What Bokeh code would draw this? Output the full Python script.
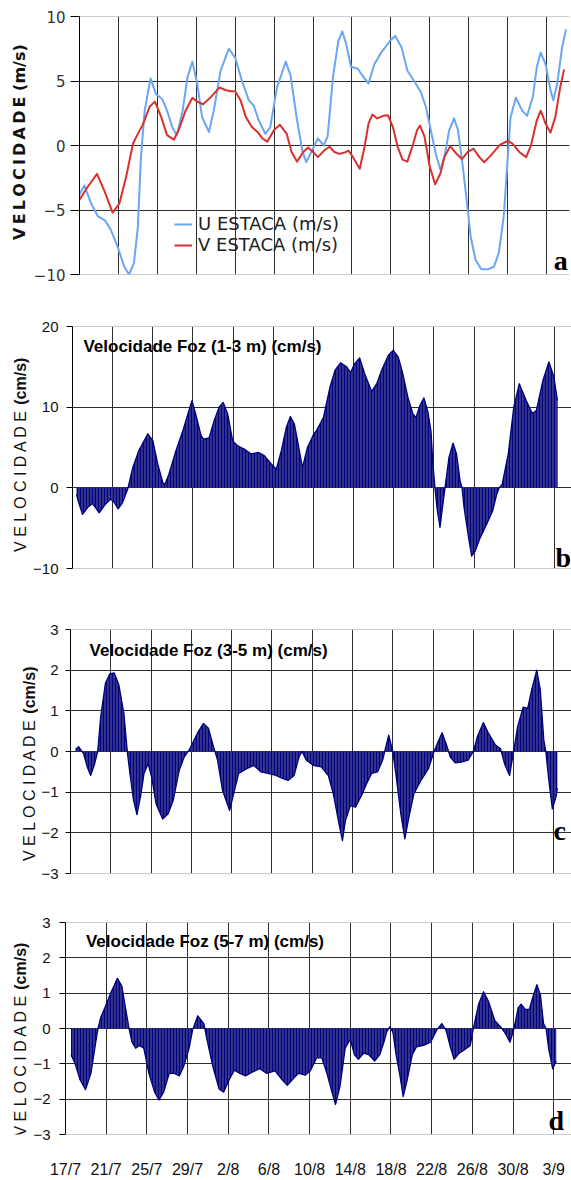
import math
from bokeh.plotting import figure
from bokeh.layouts import column, row
from bokeh.models import Range1d, FixedTicker, Label, Span, Legend, LegendItem
from bokeh.core.properties import value
from bokeh.embed import file_html
from bokeh.resources import INLINE

# ---------------- data ----------------
date_labels = ["17/7", "21/7", "25/7", "29/7", "2/8", "6/8", "10/8", "14/8",
               "18/8", "22/8", "26/8", "30/8", "3/9"]
tick_days = [0, 4, 8, 12, 16, 20, 24, 28, 32, 36, 40, 44, 48]

# panel a  (days since 17/7, m/s)
u_days = [0.0, 0.5, 1.2, 1.9, 2.6, 3.2, 3.9, 4.6, 5.1, 5.6, 6.0, 6.3, 6.7, 7.3, 7.85, 8.5, 9.0, 9.55,
          10.0, 10.6, 11.1, 11.6, 12.1, 12.6, 13.3, 13.8, 14.5, 15.35, 16.0, 16.7, 17.4, 17.9, 18.4,
          19.1, 19.6, 20.3, 21.2, 21.7, 22.35, 22.9, 23.3, 23.9, 24.5, 25.1, 25.5, 26.05, 26.6, 27.0,
          27.4, 27.9, 28.6, 29.1, 29.7, 30.3, 31.0, 31.9, 32.45, 33.1, 33.7, 34.4, 35.1, 35.6, 36.1,
          36.6, 37.1, 37.5, 38.0, 38.5, 38.9, 39.4, 39.9, 40.2, 40.7, 41.3, 41.95, 42.6, 43.1, 43.6,
          44.0, 44.3, 44.85, 45.5, 46.0, 46.6, 47.0, 47.4, 47.9, 48.4, 48.7, 49.1, 49.6, 50.0]
u_vals = [-3.8, -3.1, -4.5, -5.5, -5.8, -6.5, -7.8, -9.4, -10.0, -9.1, -6.3, -1.1, 2.7, 5.2, 4.0, 3.6,
          2.7, 1.4, 0.8, 2.7, 5.3, 6.5, 4.8, 2.2, 1.05, 2.7, 5.8, 7.5, 6.8, 5.0, 3.5, 3.1, 2.0, 0.9,
          1.4, 4.5, 6.5, 5.4, 2.0, -0.4, -1.3, -0.4, 0.55, 0.0, 0.7, 5.3, 8.1, 8.85, 7.9, 6.1, 5.95,
          5.4, 4.8, 6.3, 7.2, 8.1, 8.5, 7.6, 5.8, 5.0, 4.1, 3.0, 1.2, -0.6, -1.9, -0.9, 1.2, 2.1, 1.2,
          -1.65, -5.0, -7.05, -8.85, -9.6, -9.6, -9.4, -8.3, -5.5, -1.1, 2.2, 3.7, 2.7, 2.3, 3.8, 6.1,
          7.2, 6.3, 4.3, 3.5, 4.8, 7.6, 9.0]

v_days = [0.0, 0.85, 1.8, 2.6, 3.4, 4.1, 4.8, 5.5, 6.0, 6.5, 7.2, 7.75, 8.4, 9.0, 9.7, 10.2, 10.9,
          11.6, 12.1, 12.7, 13.5, 14.4, 15.0, 15.5, 16.0, 16.55, 17.1, 17.7, 18.3, 18.8, 19.3, 20.0,
          20.6, 21.3, 21.8, 22.35, 23.0, 23.5, 24.0, 24.5, 25.2, 25.7, 26.2, 26.7, 27.25, 27.65, 28.1,
          28.8, 29.3, 29.7, 30.1, 30.6, 31.2, 31.7, 32.2, 32.7, 33.2, 33.7, 34.3, 34.7, 35.0, 35.45,
          36.0, 36.55, 37.1, 37.5, 38.1, 38.7, 39.3, 39.9, 40.5, 41.1, 41.6, 42.3, 43.2, 44.0, 44.5,
          45.2, 45.9, 46.4, 47.0, 47.4, 47.9, 48.4, 48.9, 49.4, 49.8]
v_vals = [-4.2, -3.2, -2.2, -3.6, -5.2, -4.5, -2.4, 0.15, 0.9, 1.6, 3.0, 3.4, 2.2, 0.8, 0.45, 1.2,
          2.7, 3.7, 3.4, 3.2, 3.75, 4.5, 4.3, 4.2, 4.2, 3.5, 2.2, 1.45, 1.05, 0.55, 0.3, 1.2, 1.6, 0.9,
          -0.5, -1.25, -0.5, -0.15, -0.5, -0.9, -0.35, -0.1, -0.5, -0.65, -0.55, -0.4, -0.9, -1.8,
          -0.1, 1.7, 2.4, 2.1, 2.3, 2.35, 1.45, -0.1, -1.1, -1.25, 0.15, 1.2, 1.55, 0.7, -1.65, -3.0,
          -2.15, -0.9, -0.05, -0.6, -1.05, -0.5, -0.25, -0.9, -1.3, -0.75, 0.05, 0.35, 0.15, -0.5,
          -0.9, 0.0, 1.95, 2.7, 1.7, 1.0, 2.2, 4.5, 5.9]

# panel b  (1-3 m, cm/s)
b_days = [0.4, 0.56, 1.0, 1.5, 2.0, 2.66, 3.3, 3.8, 4.15, 4.55, 5.0, 5.5, 6.0, 6.6, 7.5, 8.0, 8.5,
          9.0, 9.2, 9.6, 10.3, 11.0, 11.5, 11.9, 12.3, 12.8, 13.05, 13.6, 14.1, 14.6, 15.0, 15.45,
          15.95, 16.45, 17.1, 17.8, 18.5, 19.1, 19.8, 20.3, 20.8, 21.3, 21.7, 22.1, 22.6, 22.9, 23.4,
          24.0, 24.3, 25.0, 25.65, 26.15, 26.7, 27.3, 27.7, 28.1, 28.6, 29.1, 29.8, 30.3, 30.8, 31.45,
          31.95, 32.45, 32.9, 33.4, 33.9, 34.2, 34.6, 35.0, 35.4, 35.7, 35.9, 36.1, 36.3, 36.6, 36.85,
          37.1, 37.5, 37.9, 38.25, 38.6, 38.8, 39.0, 39.4, 39.75, 40.1, 40.6, 41.25, 41.85, 42.25,
          42.5, 42.8, 43.4, 43.95, 44.5, 45.2, 45.8, 46.2, 46.85, 47.45, 47.95, 48.3]
b_vals = [-0.8, -1.6, -3.3, -2.45, -1.95, -3.1, -2.0, -1.4, -1.8, -2.6, -1.8, -0.15, 2.5, 4.6, 6.7,
          5.85, 2.9, 0.65, 0.4, 1.7, 4.6, 7.1, 9.2, 10.8, 9.0, 6.5, 6.05, 6.2, 8.3, 10.0, 10.6, 9.2,
          5.85, 5.2, 4.8, 4.2, 4.4, 4.0, 2.95, 2.3, 4.6, 7.5, 8.85, 7.9, 4.6, 2.5, 5.0, 6.6, 7.1, 8.75,
          12.5, 14.6, 15.5, 15.0, 14.3, 15.4, 16.1, 14.15, 11.95, 12.9, 14.6, 16.4, 17.05, 16.2, 14.15,
          11.25, 9.2, 8.7, 10.2, 11.15, 9.4, 7.1, 2.95, 0.0, -2.45, -4.9, -2.45, 0.0, 3.8, 5.55, 4.2,
          0.9, 0.0, -2.45, -5.8, -8.45, -7.85, -6.2, -4.5, -2.85, -0.8, 0.0, 0.45, 4.2, 10.0, 12.9,
          10.8, 9.2, 9.6, 13.3, 15.6, 13.75, 10.8]

# panel c  (3-5 m, cm/s)
c_days = [0.5, 0.8, 1.3, 1.66, 2.0, 2.4, 2.7, 3.0, 3.47, 3.9, 4.34, 4.8, 5.3, 5.64, 5.9, 6.26, 6.6,
          7.0, 7.3, 7.7, 8.06, 8.5, 9.15, 9.7, 10.2, 10.8, 11.3, 11.86, 12.6, 13.2, 13.7, 14.2, 14.6,
          15.1, 15.8, 16.2, 16.7, 17.5, 18.2, 18.9, 19.6, 20.4, 21.1, 21.6, 22.2, 22.7, 23.0, 23.4,
          24.1, 24.9, 25.6, 26.1, 26.6, 27.0, 27.3, 27.8, 28.3, 28.9, 29.4, 29.9, 30.5, 31.0, 31.2,
          31.6, 32.0, 32.3, 32.8, 33.2, 33.6, 34.1, 34.8, 35.55, 36.1, 36.5, 36.9, 37.4, 37.7, 38.2,
          38.8, 39.5, 40.0, 40.4, 41.0, 41.5, 42.2, 42.7, 43.1, 43.6, 44.0, 44.4, 44.95, 45.4, 45.8,
          46.3, 46.65, 47.0, 47.2, 47.5, 47.85, 48.2, 48.35]
c_vals = [0.05, 0.12, -0.05, -0.38, -0.59, -0.3, 0.0, 0.86, 1.68, 1.91, 1.93, 1.64, 0.94, 0.0, -0.54,
          -1.2, -1.55, -1.04, -0.54, -0.3, -0.63, -1.29, -1.66, -1.53, -1.2, -0.46, -0.13, 0.07, 0.45,
          0.69, 0.57, 0.12, -0.21, -0.96, -1.45, -1.04, -0.54, -0.42, -0.34, -0.5, -0.54, -0.59, -0.67,
          -0.71, -0.59, -0.13, 0.0, -0.21, -0.34, -0.38, -0.59, -1.04, -1.7, -2.19, -1.7, -1.33, -1.37,
          -1.08, -0.79, -0.54, -0.5, -0.21, 0.0, 0.4, 0.0, -0.54, -1.53, -2.15, -1.62, -1.04, -0.71,
          -0.42, 0.0, 0.24, 0.46, 0.12, -0.13, -0.28, -0.26, -0.21, 0.0, 0.36, 0.71, 0.45, 0.16, 0.07,
          -0.3, -0.59, 0.0, 0.61, 1.09, 1.06, 1.52, 2.0, 1.52, 0.28, 0.0, -0.71, -1.41, -1.12, -0.9]

# panel d  (5-7 m, cm/s)
d_days = [0.54, 0.9, 1.43, 1.97, 2.5, 2.97, 3.2, 3.47, 3.93, 4.47, 5.1, 5.54, 5.9, 6.25, 6.54, 6.9,
          7.25, 7.7, 8.2, 8.76, 9.2, 9.65, 10.2, 10.7, 11.2, 11.6, 12.15, 12.5, 13.0, 13.6, 13.9, 14.5,
          15.1, 15.55, 16.1, 16.6, 17.15, 17.7, 18.4, 19.1, 19.8, 20.6, 21.3, 21.8, 22.3, 22.9, 23.6,
          24.1, 24.7, 25.2, 25.7, 26.2, 26.55, 27.0, 27.5, 28.0, 28.4, 28.8, 29.3, 29.8, 30.4, 30.9,
          31.3, 31.6, 31.9, 32.2, 32.5, 32.9, 33.2, 33.6, 34.1, 34.5, 35.2, 35.9, 36.5, 37.0, 37.4,
          37.8, 38.2, 38.7, 39.2, 39.8, 40.1, 40.6, 41.1, 41.6, 42.2, 42.8, 43.2, 43.7, 44.1, 44.5,
          44.8, 45.2, 45.6, 46.0, 46.35, 46.7, 47.0, 47.25, 47.5, 47.9, 48.25]
d_vals = [-0.74, -0.96, -1.45, -1.73, -1.27, -0.39, 0.0, 0.32, 0.63, 1.02, 1.42, 1.2, 0.58, 0.0,
          -0.39, -0.56, -0.48, -0.56, -1.27, -1.8, -2.02, -1.8, -1.27, -1.27, -1.34, -1.09, -0.56,
          -0.04, 0.36, 0.14, -0.3, -1.09, -1.71, -1.8, -1.45, -1.18, -1.27, -1.34, -1.23, -1.14,
          -1.27, -1.2, -1.45, -1.61, -1.45, -1.27, -1.32, -1.18, -0.83, -0.83, -1.27, -1.8, -2.15,
          -1.62, -0.56, -0.3, -0.74, -0.87, -0.7, -0.74, -0.92, -0.74, -0.39, -0.08, 0.05, -0.12,
          -0.74, -1.36, -1.93, -1.45, -0.74, -0.52, -0.48, -0.39, -0.04, 0.14, -0.04, -0.48, -0.87,
          -0.7, -0.61, -0.48, 0.0, 0.67, 1.04, 0.76, 0.23, 0.04, -0.12, -0.39, 0.0, 0.58, 0.69, 0.54,
          0.54, 0.94, 1.24, 0.94, 0.14, 0.0, -0.56, -1.14, -0.92]

panel_titles = ["Velocidade Foz (1-3 m) (cm/s)", "Velocidade Foz (3-5 m) (cm/s)",
                "Velocidade Foz (5-7 m) (cm/s)"]
legend_labels = ["U ESTACA (m/s)", "V ESTACA (m/s)"]
panel_letters = ["a", "b", "c", "d"]
ylabel_a = "V\u2009E\u2009L\u2009O\u2009C\u2009I\u2009D\u2009A\u2009D\u2009E (m/s)"
ylabel_word = "V E L O C I D A D E"
ylabel_unit = "(cm/s)"

U_COLOR = "#6aa6f2"
V_COLOR = "#d93030"
NAVY = "#000080"
GRID = "#2e2e2e"
EDGE = "#9a9a9a"
ARIAL = "Liberation Sans"
VERD = "DejaVu Sans"
ROT = math.pi / 2


def strip(width, height):
    s = figure(width=width, height=height, x_range=Range1d(0, width), y_range=Range1d(0, height),
               output_backend="svg", toolbar_location=None, x_axis_location=None,
               y_axis_location=None, min_border_left=0, min_border_right=0, min_border_top=0,
               min_border_bottom=0)
    s.outline_line_color = None
    s.grid.visible = False
    return s


def base_fig(width, height, top, bottom, left, right, xend, ylo, yhi, yticks, font, fsize,
             tick_out, standoff, label_color):
    p = figure(width=width, height=height, x_range=Range1d(0, xend), y_range=Range1d(ylo, yhi),
               output_backend="svg", toolbar_location=None,
               min_border_top=top, min_border_bottom=bottom,
               min_border_left=left, min_border_right=right)
    p.outline_line_color = None
    p.xgrid.ticker = FixedTicker(ticks=tick_days[1:])
    p.ygrid.ticker = FixedTicker(ticks=[t for t in yticks if ylo < t < yhi])
    p.xgrid.grid_line_color = GRID
    p.ygrid.grid_line_color = GRID
    p.yaxis.ticker = FixedTicker(ticks=yticks)
    p.yaxis.minor_tick_line_color = None
    p.yaxis.major_tick_in = 0
    p.yaxis.major_tick_out = tick_out
    p.yaxis.major_tick_line_color = "black"
    p.yaxis.axis_line_color = "black"
    p.yaxis.major_label_standoff = standoff
    p.yaxis.major_label_text_font = font
    p.yaxis.major_label_text_font_size = fsize
    p.yaxis.major_label_text_color = label_color
    for loc in (ylo, yhi):
        p.add_layout(Span(location=loc, dimension="width", line_color=EDGE, line_width=1))
    return p


# ---------------- panel a ----------------
sa = strip(30, 300)
sa.text(x=[19], y=[154], text=[ylabel_a], angle=ROT, text_font=value(VERD),
        text_font_style="bold", text_font_size="16px", text_color="#111111",
        text_align="center", text_baseline="middle")

pa = base_fig(541, 300, 16, 26, 49, 2, 50.36, -10, 10, [-10, -5, 0, 5, 10], VERD, "15px", 9, 5,
              "#333333")
pa.xaxis.visible = False
ru = pa.line(u_days, u_vals, line_color=U_COLOR, line_width=2, line_join="round")
rv = pa.line(v_days, v_vals, line_color=V_COLOR, line_width=2, line_join="round")
leg = Legend(items=[LegendItem(label=legend_labels[0], renderers=[ru]),
                    LegendItem(label=legend_labels[1], renderers=[rv])],
             location=(95, 19), margin=0, padding=0, spacing=0,
             glyph_width=18, glyph_height=20, label_height=20, label_standoff=6,
             label_text_font=VERD, label_text_font_size="18px", label_text_color="#222222",
             background_fill_alpha=0, border_line_color=None)
pa.add_layout(leg)
pa.add_layout(Label(x=48.75, y=-8.95, text=panel_letters[0], text_font="Liberation Serif",
                    text_font_style="bold", text_font_size="28px", text_color="black",
                    text_baseline="alphabetic"))


def foz_panel(strip_w, label_x, label_y, height, top, bottom, left, xend, ylo, yhi, yticks,
              days, vals, title, tpos, letter, lpos, tick_out, standoff, show_x=False):
    s = strip(strip_w, height)
    s.text(x=[label_x], y=[label_y], text=[ylabel_word], angle=ROT, text_font=value(ARIAL),
           text_font_size="16px", text_color="#111111", text_align="right",
           text_baseline="middle")
    s.text(x=[label_x], y=[label_y + 5], text=[ylabel_unit], angle=ROT, text_font=value(ARIAL),
           text_font_style="bold", text_font_size="16px", text_color="#111111",
           text_align="left", text_baseline="middle")
    p = base_fig(571 - strip_w, height, top, bottom, left, 0, xend, ylo, yhi, yticks, ARIAL,
                 "15px", tick_out, standoff, "#111111")
    p.varea(x=days, y1=0, y2=vals, fill_color="#34348a", fill_alpha=1.0,
            hatch_pattern="vertical_line", hatch_color=NAVY, hatch_scale=3, hatch_weight=1.2)
    p.line(days, vals, line_color=NAVY, line_width=1.3, line_join="round")
    p.add_layout(Label(x=tpos[0], y=tpos[1], text=title, text_font=ARIAL, text_font_style="bold",
                       text_font_size="17px", text_color="black", text_baseline="middle"))
    p.add_layout(Label(x=lpos[0], y=lpos[1], text=letter, text_font="Liberation Serif",
                       text_font_style="bold", text_font_size="28px", text_color="black",
                       text_baseline="alphabetic"))
    if show_x:
        p.xaxis.ticker = FixedTicker(ticks=tick_days)
        p.xaxis.major_label_overrides = {d: s_ for d, s_ in zip(tick_days, date_labels)}
        p.xaxis.axis_line_color = None
        p.xaxis.major_tick_line_color = None
        p.xaxis.minor_tick_line_color = None
        p.xaxis.major_label_standoff = 20
        p.xaxis.major_label_text_font = ARIAL
        p.xaxis.major_label_text_font_size = "16px"
        p.xaxis.major_label_text_color = "#111111"
    else:
        p.xaxis.visible = False
    return row(s, p, spacing=0)


rb = foz_panel(30, 20, 198, 300, 26, 32, 41, 49.70, -10, 20, [-10, 0, 10, 20], b_days, b_vals,
               panel_titles[0], (1.09, 17.5), panel_letters[1], (48.1, -8.6), 6, 8)
rc = foz_panel(38, 29, 185, 290, 29, 17, 32, 49.75, -3, 3, [-3, -2, -1, 0, 1, 2, 3], c_days,
               c_vals, panel_titles[1], (1.89, 2.49), panel_letters[2], (47.96, -1.95), 5, 7)
rd = foz_panel(30, 20, 193, 290, 32, 32, 34, 49.75, -3, 3, [-3, -2, -1, 0, 1, 2, 3], d_days,
               d_vals, panel_titles[2], (2.01, 2.46), panel_letters[3], (47.5, -2.59), 6, 9,
               show_x=True)

layout = column(row(sa, pa, spacing=0), rb, rc, rd, spacing=0)
open("out.html", "w").write(file_html(layout, INLINE))
